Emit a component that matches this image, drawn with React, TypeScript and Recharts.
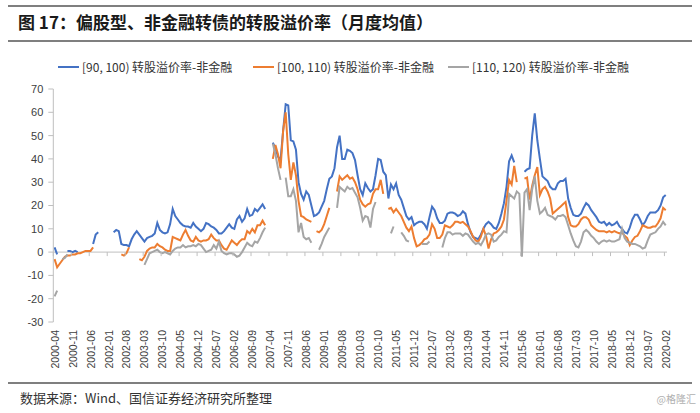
import React from 'react';
import { LineChart, Line, XAxis, YAxis, ReferenceLine } from 'recharts';

// monthly categories, 2000-04 .. 2020-02
const START_YEAR = 2000;
const START_MONTH = 4;
const MONTH_COUNT = 239;
const MONTHS: string[] = [];
for (let k = 0; k < MONTH_COUNT; k++) {
  const m = START_MONTH - 1 + k;
  const yy = START_YEAR + Math.floor(m / 12);
  const mm = (m % 12) + 1;
  MONTHS.push(`${yy}-${mm < 10 ? '0' + mm : mm}`);
}

const Y_TICKS = [-30, -20, -10, 0, 10, 20, 30, 40, 50, 60, 70];

const SERIES_NAMES = [
  '[90, 100) 转股溢价率-非金融',
  '[100, 110) 转股溢价率-非金融',
  '[110, 120) 转股溢价率-非金融',
];
const COLORS = ['#4472C4', '#ED7D31', '#A5A5A5'];

// one row = 7 months (one tick label group)
const blue: (number | null)[] = [
  2, -1, null, null, null, 0.5, 0.5,
  0, 0.5, 0, null, null, null, null,
  null, 3.5, 7.5, 8.5, null, null, null,
  null, null, 8.5, 9.5, 9, 3.5, 3,
  3, 2.5, 5.5, 7.5, 9, 7.5, 6,
  4.5, 6, 6.5, 7, 8, 12.5, 9.5,
  8.5, 8, 8.5, 12, 18.5, 15.5, 14,
  12.5, 11.5, 11, 11, 10.5, 12.5, 11,
  10, 9, 10, 12.5, 12, 11, 10.5,
  9.5, 8, 8, 9, 10.5, 12, 10.5,
  10, 14, 15.5, 13, 14.5, 18.5, 15.5,
  16, 18.5, 17.5, 19, 20.5, 18.5, null,
  null, 47, 44.5, 41, 39.5, 52, 63.5,
  63, 48, 47.5, 44, 30, 25, 22.5,
  26, 24.5, 20, 15.5, 16, 17, 19.5,
  22, 27, 31.5, 32.5, 36, 45, 50,
  40, 40, 44, 43.5, 42.5, 39.5, 33,
  27, 24.5, 29.5, 27.5, 26, 27, 33,
  40, 39.5, 34.5, 33, 23, 29, 27,
  29.5, 24.5, 22.5, 19, 15.5, 14, 15,
  11.5, 12.5, 13, 13, 12, 10, 15,
  19.5, 18, 14.5, 12.5, 12.5, 13.5, 16.5,
  17, 17, 16.5, 15.5, 16, 17.5, 16.5,
  12, 8.5, 6.5, 6, 5.5, 7.5, 10,
  12, 13, 12, 10.5, 10, 12.5, 16.5,
  21, 28, 39, 41.5, 38.5, null, null,
  null, 34.5, 35.5, 36, 50, 59.5, 48,
  40, 32.5, 31.5, 30.5, 28, 27, 27,
  29.5, 30.5, 30.5, 31.5, 23, 19, 16,
  15.5, 15.5, 16.5, 19, 21, 20, 18,
  16.5, 15, 13, 12.5, 13, 11.5, 12.5,
  11.5, 12, 13, 11, 10, 8.5, 8,
  10.5, 14, 16, 16, 14, 11.5, 13,
  15.5, 17, 17, 17, 18, 20, 23.5,
  24.5,
];

const orange: (number | null)[] = [
  -3, -6.5, -5, -3.5, -2, -1.5, -1.5,
  -1, -1, -0.5, -0.5, 0, 0.5, 0.5,
  0.5, 2, null, null, null, null, null,
  null, null, null, null, null, -1, -1.5,
  -0.5, 2, null, null, null, -3, -3.5,
  -2, 0.5, 1.5, 2, 2, 3.5, 2.5,
  2, 1, 0.5, 0.5, 6.5, 6, 5.5,
  5, 7.5, 9.5, 7, 5, 4.5, 6.5,
  5, 4.5, 5, 5, 5.5, 7.5, 6,
  5, 5, 3, 1.5, 1, 3, 5,
  4, 3, 4.5, 5.5, 5.5, 9, 8,
  10, 8.5, 11.5, 11.5, 13.5, 11.5, null,
  null, 40, 46, 42, 36, 52, 60,
  42, 31, 38.5, 33, 22, 15.5, 15,
  14, 13.5, 13, null, 9, 8.5, 9.5,
  12, 15.5, 19, null, null, 26, 32.5,
  31, 32, 33, 31.5, 32, 30, 27,
  22.5, 20.5, 19.5, 20.5, 21, 25, 27,
  27, 31, 25, null, 18.5, 19, 17,
  18.5, 17, 15.5, 13, 10.5, 9, 11,
  6, 2.5, 3, 4, 5.5, 6, 7.5,
  12, 10, 6, 6, 7.5, 11.5, 11,
  10.5, 11.5, 13, 13, 12.5, 13, 12,
  11, 9, 6.5, 5, 4.5, 6.5, 10,
  7, 1.5, 5.5, 8, 8.5, 9.5, 11,
  14, 22, 31, 29, 37, 30, null,
  null, 31.5, 32, 22.5, 28.5, 33, 36.5,
  24.5, 27, 28, 26, 23, 16.5, 17.5,
  18.5, 19.5, 20.5, 21.5, 15, 11.5, 11,
  11, 12, 14, 15, 15, 14, 11.5,
  10.5, 9.5, 9, 9, 9, 8.5, 9,
  8.5, 9, 8.5, 8, 8.5, 7, 6,
  3, 5, 6.5, 7, 9, 11.5, 11,
  10.5, 10.5, 11, 11, 12.5, 14.5, 19,
  18,
];

const gray: (number | null)[] = [
  -19, -16.5, null, -3, -2.5, -1, null,
  null, null, null, null, null, null, null,
  null, null, null, null, null, null, null,
  null, null, null, null, null, null, null,
  null, null, null, null, null, null, null,
  -5.5, -3, -0.5, 0, 0.5, 1, 0,
  -0.5, 0, -0.5, -1, 0.5, 1.5, 2,
  2, 3, 2, 2.5, 2.5, 3, 2.5,
  3.5, 3, 1.5, 0, 0.5, 1, 3,
  1.5, 4.5, 0.5, -0.5, -1, -0.5, -0.5,
  -1, -2, -1.5, 0, 2, 4, 3,
  2.5, 4.5, 4, 6, 8.5, 10.5, null,
  null, 46.5, 42, 36, 31, null, 32,
  24, 24, 27, 22, 8.5, 12.5, 6.5,
  5.5, 6, 4, null, null, 1, 3.5,
  6.5, 8.5, 10.5, null, null, 19, 28,
  27, 26, 28, 27, 27.5, 25.5, 23.5,
  19, 13.5, 15.5, 15, 10.5, 18.5, 21.5,
  null, null, null, null, null, 8, 11,
  null, null, 8.5, 7, 5, 4.5, null,
  null, null, null, 3.5, 3.5, 3.5, 4.5,
  null, null, null, null, 2, 6, 8.5,
  8.5, 7.5, 8, 8, 8, 7, 8,
  7.5, 6, 4.5, 3.5, 4, 3, 5,
  7.5, 8, 7.5, 4.5, 5, 6.5, 7.5,
  9, 8.5, 25, 24, 23, 26, 25,
  -2, 25.5, 27, 18, 27, 32.5, 22,
  16.5, 17.5, 19, 16, 15.5, 15, 14,
  15.5, 15.5, 16, 15, 11.5, 8, 5,
  2.5, 2, 4.5, 8.5, 9.5, 8.5, 7,
  6, 4.5, 3.5, 4.5, 5, 4.5, 5,
  4.5, 4.5, 5, 5.5, 10, 6, 4.5,
  4, 3.5, 3.5, 3, 2.5, 1.5, 2,
  5, 7.5, 8, 8.5, 10, 11, 13,
  11.5,
];

const data = MONTHS.map((m, i) => ({ month: m, s1: blue[i], s2: orange[i], s3: gray[i] }));

const PLOT_TOP = 89;
const PLOT_H = 233;
const PLOT_W = 613.7;
const BAND = PLOT_W / MONTH_COUNT;
const ZERO_Y = PLOT_TOP + (PLOT_H * 70) / 100;
const AXIS_GRAY = '#bfbfbf';
const TEXT = '#404040';

const MonthTick = (props: any) => {
  const { x, y, payload } = props;
  const bx = x - BAND / 2;
  return (
    <g>
      <line x1={bx} x2={bx} y1={ZERO_Y} y2={ZERO_Y + 4} stroke={AXIS_GRAY} strokeWidth={1} />
      <text
        transform={`translate(${x + 4},${y}) rotate(-90)`}
        textAnchor="end"
        fontSize={10.5}
        fontFamily="'Liberation Sans', Arial, sans-serif"
        fill={TEXT}
      >
        {payload.value}
      </text>
    </g>
  );
};

const App: React.FC = () => {
  return (
    <div
      style={{
        position: 'fixed',
        left: 0,
        top: 0,
        width: 700,
        height: 413,
        background: '#fff',
        overflow: 'hidden',
        fontFamily: "'Noto Sans CJK SC', sans-serif",
      }}
    >
      {/* title block */}
      <div style={{ position: 'absolute', left: 8, top: 5, width: 684, height: 2, background: '#7f7f7f' }} />
      <div
        style={{
          position: 'absolute',
          left: 18,
          top: 9,
          fontSize: 17,
          fontWeight: 700,
          color: '#1a1a1a',
          whiteSpace: 'nowrap',
          lineHeight: '26px',
        }}
      >
        图 17：偏股型、非金融转债的转股溢价率（月度均值）
      </div>
      <div style={{ position: 'absolute', left: 8, top: 40, width: 684, height: 2, background: '#7f7f7f' }} />

      {/* legend */}
      {SERIES_NAMES.map((name, k) => (
        <div
          key={name}
          style={{
            position: 'absolute',
            left: [58, 253, 448][k],
            top: 59,
            display: 'flex',
            alignItems: 'center',
            fontSize: 12,
            color: '#333',
            whiteSpace: 'nowrap',
            lineHeight: '16px',
          }}
        >
          <span style={{ display: 'inline-block', width: 21, height: 2, background: COLORS[k], marginRight: 3 }} />
          {name}
        </div>
      ))}

      <div style={{ position: 'absolute', left: 0, top: 0 }}>
        <LineChart width={700} height={413} data={data} margin={{ top: PLOT_TOP, right: 33, left: 13.3, bottom: 41 }}>
          <XAxis
            dataKey="month"
            interval={6}
            tick={<MonthTick />}
            tickLine={false}
            axisLine={false}
            height={50}
            padding={{ left: BAND / 2, right: BAND / 2 }}
          />
          <YAxis
            domain={[-30, 70]}
            ticks={Y_TICKS}
            width={40}
            allowDataOverflow
            axisLine={{ stroke: AXIS_GRAY }}
            tickLine={{ stroke: AXIS_GRAY }}
            tickSize={5}
            tickMargin={5}
            tick={{ fontSize: 11, fill: TEXT, fontFamily: "'Liberation Sans', Arial, sans-serif" }}
          />
          <ReferenceLine y={0} stroke={AXIS_GRAY} strokeWidth={1} />
          <Line type="linear" dataKey="s1" stroke={COLORS[0]} strokeWidth={2} dot={false} isAnimationActive={false} />
          <Line type="linear" dataKey="s2" stroke={COLORS[1]} strokeWidth={2} dot={false} isAnimationActive={false} />
          <Line type="linear" dataKey="s3" stroke={COLORS[2]} strokeWidth={2} dot={false} isAnimationActive={false} />
        </LineChart>
      </div>

      {/* footer */}
      <div style={{ position: 'absolute', left: 8, top: 382, width: 684, height: 2, background: '#7f7f7f' }} />
      <div
        style={{
          position: 'absolute',
          left: 20,
          top: 389,
          fontSize: 13,
          color: '#333',
          whiteSpace: 'nowrap',
          lineHeight: '18px',
        }}
      >
        数据来源：Wind、国信证券经济研究所整理
      </div>
      <div
        style={{
          position: 'absolute',
          right: 4,
          top: 392,
          fontSize: 10,
          color: '#b0b0b0',
          whiteSpace: 'nowrap',
          lineHeight: '14px',
        }}
      >
        @格隆汇
      </div>
    </div>
  );
};

export default App;
